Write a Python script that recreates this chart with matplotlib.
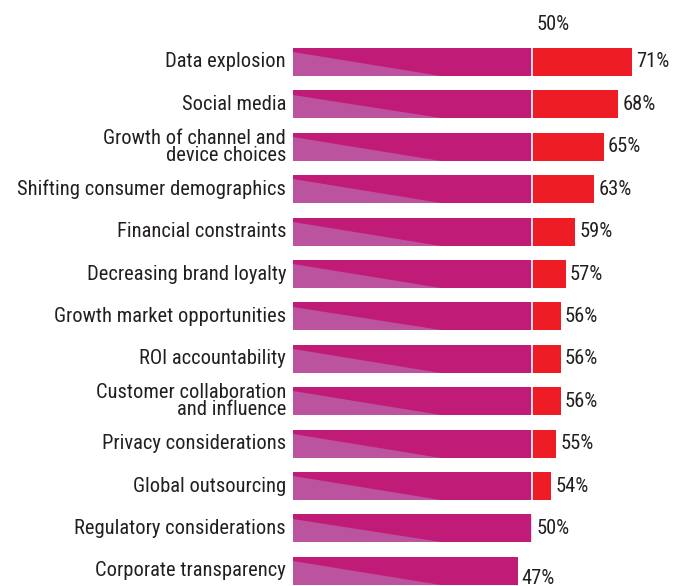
import matplotlib
matplotlib.use('Agg')
import matplotlib.pyplot as plt
from matplotlib.patches import Polygon

plt.rcParams['font.family'] = ['Roboto Condensed', 'DejaVu Sans']

categories = ['Data explosion', 'Social media', 'Growth of channel and\ndevice choices',
              'Shifting consumer demographics', 'Financial constraints',
              'Decreasing brand loyalty', 'Growth market opportunities',
              'ROI accountability', 'Customer collaboration\nand influence',
              'Privacy considerations', 'Global outsourcing',
              'Regulatory considerations', 'Corporate transparency']
values = [71, 68, 65, 63, 59, 57, 56, 56, 56, 55, 54, 50, 47]
value_labels = ['71%', '68%', '65%', '63%', '59%', '57%', '56%', '56%', '56%',
                '55%', '54%', '50%', '47%']
threshold = 50

magenta = '#C01B76'
light = '#BB539E'
red = '#EE1C25'
text_col = '#231F20'
fs = 14.8

fig = plt.figure(figsize=(6.75, 5.86), dpi=100)
ax = fig.add_axes([293 / 675, 0, 382 / 675, 1])
ax.set_xlim(0, 79.9)
ax.set_ylim(12.358, -1.462)
ax.axis('off')

h = 0.66
for i, (cat, v, lab) in enumerate(zip(categories, values, value_labels)):
    ax.barh(i, min(v, threshold), height=h, color=magenta, linewidth=0)
    if v > threshold:
        ax.barh(i, v - threshold, left=threshold, height=h, color=red, linewidth=0)
    top = i - h / 2
    bot = i + h / 2
    # lighter wedge on the lower left of each bar
    tri = Polygon([(0, top + h * 0.15), (0, bot), (31, bot)], closed=True,
                  facecolor=light, edgecolor='none')
    ax.add_patch(tri)
    dy = 0.17 if v < threshold else 0
    ax.annotate(lab, (v, i + dy), xytext=(3, 0), textcoords='offset points',
                ha='left', va='center', fontsize=fs, color=text_col)
    ax.annotate(cat, (0, i), xytext=(-5, 0), textcoords='offset points',
                ha='right', va='center', fontsize=fs, color=text_col,
                linespacing=0.9, annotation_clip=False)

ax.axvline(threshold, color='white', linewidth=1.2)
ax.annotate('50%', (threshold, -0.88), xytext=(3, 0), textcoords='offset points',
            ha='left', va='center', fontsize=fs, color=text_col)

fig.savefig('out.png', dpi=100)
